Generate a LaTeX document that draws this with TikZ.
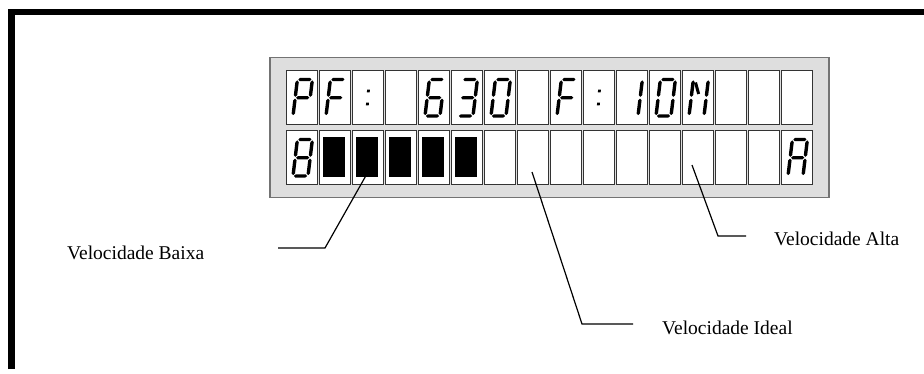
\documentclass[tikz,border=0pt]{standalone}
\usepackage{fontspec}
\setmainfont{Liberation Serif}
\newcommand\hseg[1]{\fill (0.9,#1) -- (2.6,{#1+1.7}) -- (12.4,{#1+1.7}) -- (14.1,#1) -- (12.4,{#1-1.7}) -- (2.6,{#1-1.7}) -- cycle;}
\newcommand\vseg[3]{\fill (#1,{#2+0.9}) -- ({#1+1.7},{#2+2.6}) -- ({#1+1.7},{#3-2.6}) -- (#1,{#3-0.9}) -- ({#1-1.7},{#3-2.6}) -- ({#1-1.7},{#2+2.6}) -- cycle;}
\newcommand\segA{\hseg{36.5}}
\newcommand\segB{\vseg{15}{18.25}{36.5}}
\newcommand\segC{\vseg{15}{0}{18.25}}
\newcommand\segD{\hseg{0}}
\newcommand\segE{\vseg{0}{0}{18.25}}
\newcommand\segF{\vseg{0}{18.25}{36.5}}
\newcommand\segG{\hseg{18.25}}
\newcommand\coldots{\fill (5,23.5) rectangle (7.8,26.3); \fill (5.6,10.5) rectangle (8.4,13.3);}
\newcommand\gl[3]{\begin{scope}[shift={({293+33*#1},{#2+46})},y=1pt,xslant=0.12]#3\end{scope}}
\begin{document}
\begin{tikzpicture}[x=1pt,y=-1pt,
  cell/.style={draw=black!80, fill=white, line width=0.9pt, minimum width=31pt, minimum height=54pt, inner sep=0pt, outer sep=0pt, anchor=north west},
  panel/.style={draw=black!55, fill=black!13, line width=1.5pt},
  lead/.style={draw=black, line width=1.2pt},
  lbl/.style={font=\fontsize{19.5}{23}\selectfont, inner sep=0pt, anchor=base west}]
\useasboundingbox (0,0) rectangle (924,374);
% outer frame
\draw[line width=6.5pt, line join=miter] (11.5,369) -- (11.5,12) -- (924,12);
% panel
\node[panel, minimum width=559pt, minimum height=140pt, anchor=north west, inner sep=0pt] (panel) at (269,57) {};
% cells
\foreach \i in {0,...,15} {
  \node[cell] (a\i) at ({286+33*\i},70) {};
  \node[cell] (b\i) at ({286+33*\i},130) {};
}
% row 1: PF:  630 F:10N
\gl{0}{70}{\segA\segB\segF\segE\segG}
\gl{1}{70}{\segA\segF\segE\segG}
\gl{2}{70}{\coldots}
\gl{4}{70}{\segA\segF\segE\segD\segC\segG}
\gl{5}{70}{\segA\segB\segG\segC\segD}
\gl{6}{70}{\segA\segB\segC\segD\segE\segF}
\gl{8}{70}{\segA\segF\segE\segG}
\gl{9}{70}{\coldots}
\gl{10}{70}{\segB\segC}
\gl{11}{70}{\segA\segB\segC\segD\segE\segF}
\gl{12}{70}{\segF\segE\segB\segC\draw[line width=3pt] (2.5,33.5) -- (7,22);}
% row 2
\gl{0}{130}{\segA\segB\segC\segD\segE\segF\segG}
\foreach \i in {1,...,5} {
  \fill ({286+33*\i+4},137) rectangle ({286+33*\i+26},177);
}
\gl{15}{130}{\segA\segB\segC\segE\segF\segG}
% leaders
\coordinate (lbA) at (368,172);
\coordinate (lbB) at (325,248);
\coordinate (lbC) at (278,248);
\coordinate (liA) at (532,172);
\coordinate (liB) at (582,324);
\coordinate (liC) at (633,324);
\coordinate (laA) at (692,165);
\coordinate (laB) at (718,236);
\coordinate (laC) at (746,236);
\draw[lead] (lbA) -- (lbB) -- (lbC);
\draw[lead] (liA) -- (liB) -- (liC);
\draw[lead] (laA) -- (laB) -- (laC);
% labels
\node[lbl] (tB) at (67,259) {Velocidade Baixa};
\node[lbl] (tI) at (662,334) {Velocidade Ideal};
\node[lbl] (tA) at (774,246) {Velocidade Alta};
\end{tikzpicture}
\end{document}
